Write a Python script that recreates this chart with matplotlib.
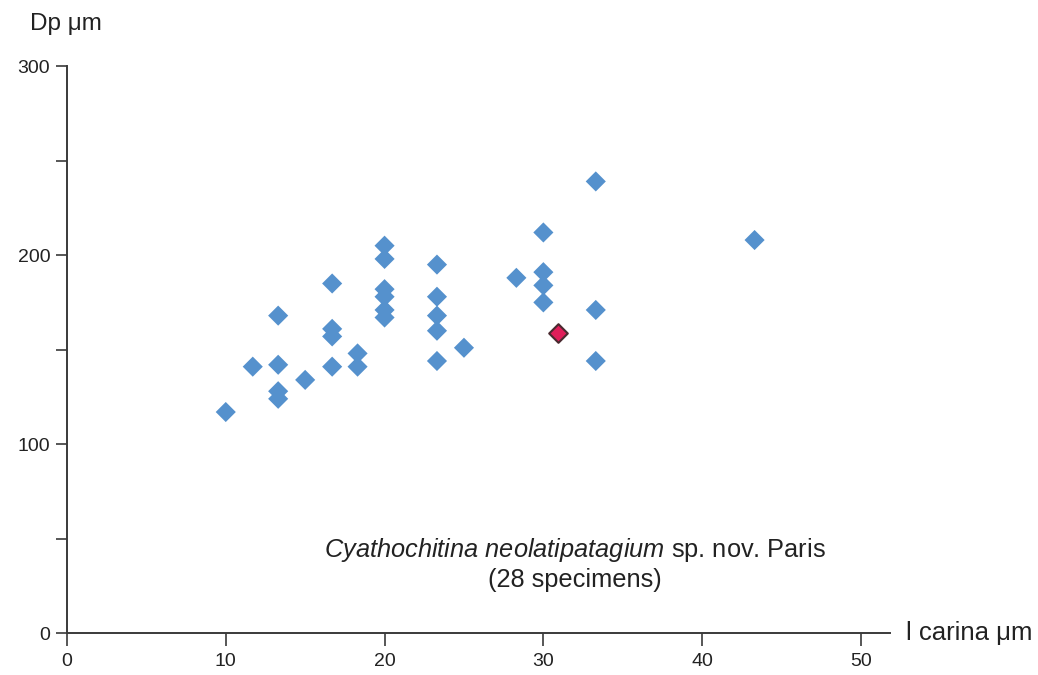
import numpy as np
from matplotlib import pyplot as plt
from matplotlib.ticker import MultipleLocator

plt.rcParams['font.family'] = ['Liberation Sans', 'DejaVu Sans']
plt.rcParams['mathtext.fontset'] = 'custom'
plt.rcParams['mathtext.rm'] = 'Liberation Sans'
plt.rcParams['mathtext.it'] = 'Liberation Sans:italic'

# l carina (um) and Dp (um)
carina = [10, 11.7, 13.3, 13.3, 13.3, 13.3, 15, 16.7, 16.7, 16.7, 16.7,
          18.3, 18.3, 20, 20, 20, 20, 20, 20, 23.3, 23.3, 23.3, 23.3, 23.3,
          25, 28.3, 30, 30, 30, 30, 33.3, 33.3, 33.3, 43.3]
dp = [117, 141, 168, 142, 128, 124, 134, 185, 161, 157, 141,
      148, 141, 205, 198, 182, 178, 171, 167, 195, 178, 168, 160, 144,
      151, 188, 212, 191, 184, 175, 239, 171, 144, 208]
holo_carina = [30.9]
holo_dp = [159]

fig = plt.figure(figsize=(10.38, 6.75), dpi=100)
ax = fig.add_axes([0.0645, 0.062, 0.7925, 0.84])

ax.scatter(carina, dp, marker='D', s=105, color='#5591cd', edgecolors='none', zorder=3)
ax.scatter(holo_carina, holo_dp, marker='D', s=90, color='#e01e5a',
           edgecolors='#4a2a30', linewidths=1.5, zorder=4)

ax.set_xlim(0, 51.8)
ax.set_ylim(0, 300)
for s in ['top', 'right']:
    ax.spines[s].set_visible(False)
for s in ['left', 'bottom']:
    ax.spines[s].set_color('#3a3a3a')
    ax.spines[s].set_linewidth(1.4)
ax.spines['left'].set_bounds(0, 300)

ax.set_xticks([0, 10, 20, 30, 40, 50])
ax.set_yticks([0, 100, 200, 300])
ax.yaxis.set_minor_locator(MultipleLocator(50))
ax.tick_params(axis='both', which='both', colors='#3a3a3a', width=1.2,
               labelcolor='#222222', labelsize=14)
ax.tick_params(axis='x', length=9, pad=5)
ax.tick_params(axis='y', which='both', length=8, pad=4)

fig.text(0.029, 0.965, 'Dp \u03bcm', fontsize=17.5, ha='left', va='center', color='#222222')
fig.text(0.873, 0.062, 'l carina \u03bcm', fontsize=18.5, ha='left', va='center', color='#222222')

ax.text(32.0, 44, r'$Cyathochitina\ neolatipatagium$ sp. nov. Paris',
        fontsize=18.3, ha='center', va='center', color='#222222')
ax.text(32.0, 28, '(28 specimens)', fontsize=18.3, ha='center', va='center', color='#222222')

fig.savefig('out.png', dpi=100)
